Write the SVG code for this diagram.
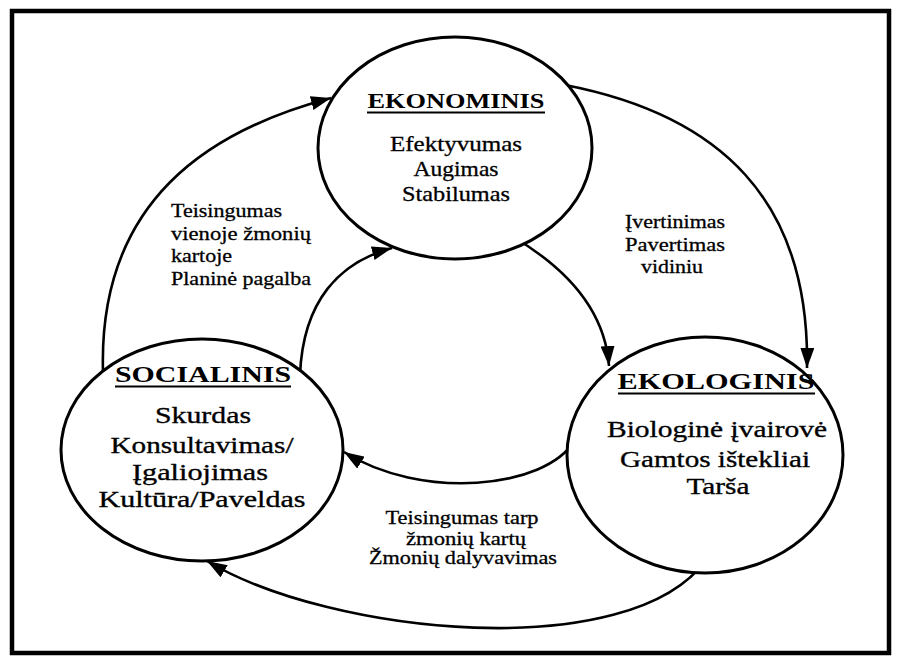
<svg xmlns="http://www.w3.org/2000/svg" width="903" height="664" viewBox="0 0 903 664">
<style>
.t{font-family:"Liberation Serif","Times New Roman",Times,serif;fill:#000}
.h{font-weight:bold;font-size:24px}
.b{font-size:24px;stroke:#000;stroke-width:0.35}
.m{font-size:21px;stroke:#000;stroke-width:0.3}
.s{font-size:19px;stroke:#000;stroke-width:0.3}
.node{fill:#fff;stroke:#000;stroke-width:3}
.ul{stroke:#000;stroke-width:2}
.c{fill:none;stroke:#000;stroke-width:2.6}
</style>
<defs>
<marker id="ah" viewBox="0 0 20 14" refX="20" refY="7" markerWidth="20" markerHeight="14" orient="auto" markerUnits="userSpaceOnUse">
<path d="M0,0 L20,7 L0,14 z" fill="#000"/>
</marker>
</defs>
<rect x="0" y="0" width="903" height="664" fill="#fff"/>
<rect x="12" y="11" width="877" height="642" fill="none" stroke="#000" stroke-width="4.5"/>

<g id="connectors">
<path class="c" d="M103,372 C98,200 210,130 331,98" marker-end="url(#ah)"/>
<path class="c" d="M300,375 C303,300 340,262 392,248" marker-end="url(#ah)"/>
<path class="c" d="M515,238 C565,268 605,310 609,366" marker-end="url(#ah)"/>
<path class="c" d="M565,85 C720,115 810,200 807,368" marker-end="url(#ah)"/>
<path class="c" d="M706,560 C630,665 330,635 207,561" marker-end="url(#ah)"/>
<path class="c" d="M575,440 C545,490 420,500 344,452" marker-end="url(#ah)"/>
</g>

<g id="ekonominis">
<ellipse class="node" cx="455" cy="148" rx="137" ry="111"/>
<text class="t h" x="456" y="108" text-anchor="middle" textLength="177" lengthAdjust="spacingAndGlyphs" style="font-size:22px">EKONOMINIS</text>
<line class="ul" x1="367" y1="112.5" x2="545" y2="112.5"/>
<text class="t m" x="456" y="151" text-anchor="middle" textLength="132" lengthAdjust="spacingAndGlyphs">Efektyvumas</text>
<text class="t m" x="456" y="176" text-anchor="middle" textLength="85" lengthAdjust="spacingAndGlyphs">Augimas</text>
<text class="t m" x="456" y="201" text-anchor="middle" textLength="108" lengthAdjust="spacingAndGlyphs">Stabilumas</text>
</g>

<g id="socialinis">
<ellipse class="node" cx="202" cy="450" rx="141" ry="111"/>
<text class="t h" x="203" y="382" text-anchor="middle" textLength="176" lengthAdjust="spacingAndGlyphs">SOCIALINIS</text>
<line class="ul" x1="115" y1="386.5" x2="291" y2="386.5"/>
<text class="t b" x="203" y="423" text-anchor="middle" textLength="96" lengthAdjust="spacingAndGlyphs">Skurdas</text>
<text class="t b" x="202" y="453" text-anchor="middle" textLength="183" lengthAdjust="spacingAndGlyphs">Konsultavimas/</text>
<text class="t b" x="200" y="480" text-anchor="middle" textLength="136" lengthAdjust="spacingAndGlyphs">Įgaliojimas</text>
<text class="t b" x="202" y="507" text-anchor="middle" textLength="207" lengthAdjust="spacingAndGlyphs">Kultūra/Paveldas</text>
</g>

<g id="ekologinis">
<ellipse class="node" cx="705" cy="455" rx="138" ry="118"/>
<text class="t h" x="716" y="389" text-anchor="middle" textLength="197" lengthAdjust="spacingAndGlyphs">EKOLOGINIS</text>
<line class="ul" x1="618" y1="393.5" x2="815" y2="393.5"/>
<text class="t b" x="717" y="437" text-anchor="middle" textLength="220" lengthAdjust="spacingAndGlyphs">Biologinė įvairovė</text>
<text class="t b" x="715" y="467" text-anchor="middle" textLength="190" lengthAdjust="spacingAndGlyphs">Gamtos ištekliai</text>
<text class="t b" x="718" y="494" text-anchor="middle" textLength="63" lengthAdjust="spacingAndGlyphs">Tarša</text>
</g>

<g id="label-left">
<text class="t s" x="171" y="217" textLength="111" lengthAdjust="spacingAndGlyphs">Teisingumas</text>
<text class="t s" x="171" y="240" textLength="140" lengthAdjust="spacingAndGlyphs">vienoje žmonių</text>
<text class="t s" x="171" y="262" textLength="61" lengthAdjust="spacingAndGlyphs">kartoje</text>
<text class="t s" x="171" y="285" textLength="140" lengthAdjust="spacingAndGlyphs">Planinė pagalba</text>
</g>

<g id="label-right">
<text class="t s" x="675" y="228" text-anchor="middle" textLength="100" lengthAdjust="spacingAndGlyphs">Įvertinimas</text>
<text class="t s" x="675" y="251" text-anchor="middle" textLength="100" lengthAdjust="spacingAndGlyphs">Pavertimas</text>
<text class="t s" x="672" y="273" text-anchor="middle" textLength="62" lengthAdjust="spacingAndGlyphs">vidiniu</text>
</g>

<g id="label-bottom">
<text class="t s" x="462" y="524" text-anchor="middle" textLength="153" lengthAdjust="spacingAndGlyphs">Teisingumas tarp</text>
<text class="t s" x="466" y="545" text-anchor="middle" textLength="120" lengthAdjust="spacingAndGlyphs">žmonių kartų</text>
<text class="t s" x="463" y="564" text-anchor="middle" textLength="188" lengthAdjust="spacingAndGlyphs">Žmonių dalyvavimas</text>
</g>
</svg>
